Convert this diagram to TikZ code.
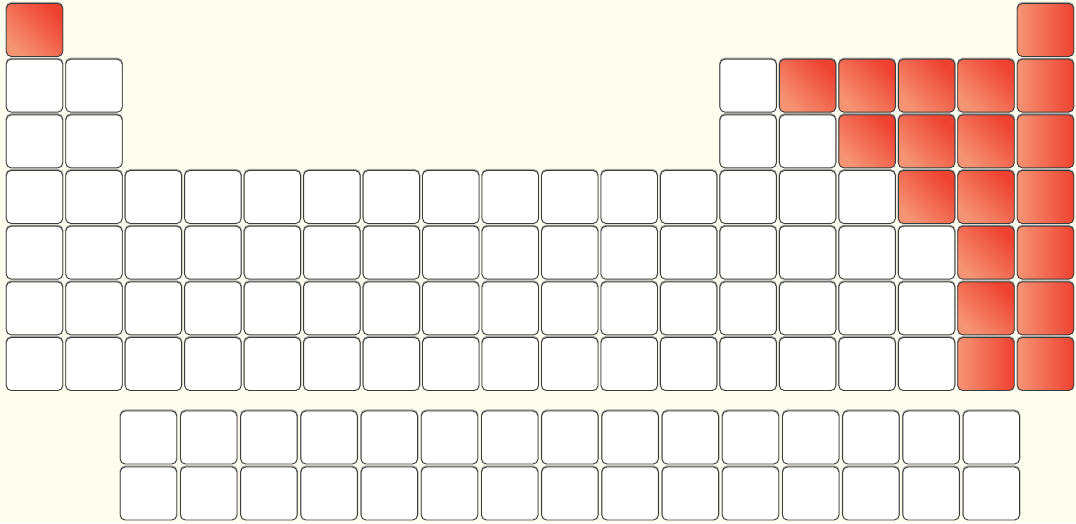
\documentclass[tikz,border=0pt]{standalone}
\usetikzlibrary{shadings}
\definecolor{bg}{HTML}{FFFDEE}
\definecolor{rdark}{HTML}{EE4231}
\definecolor{rlight}{HTML}{F59474}
\definecolor{edge}{HTML}{3C3C3C}
\tikzset{
  cell/.style={rectangle, rounded corners=5pt, minimum width=56.5pt, minimum height=53pt,
    inner sep=0pt, draw=edge, line width=0.9pt, fill=white,
    preaction={draw=gray!70, line width=1.4pt, transform canvas={yshift=0.9pt}}},
  plain/.style={},
  diag/.style={top color=rdark, bottom color=rlight, shading angle=-45},
  horiz/.style={left color=rlight, right color=rdark},
}
\begin{document}
\begin{tikzpicture}[x=1pt,y=-1pt]
\fill[bg] (0,0) rectangle (1076,523);
\useasboundingbox (0,0) rectangle (1076,523);
\foreach \r/\cl/\d/\h in {
  1/{1,18}/1/18,
  2/{1,2,13,14,15,16,17,18}/14/18,
  3/{1,2,13,14,15,16,17,18}/15/18,
  4/{1,...,18}/16/18,
  5/{1,...,18}/17/18,
  6/{1,...,18}/17/18,
  7/{1,...,18}/17/17}{
  \foreach \c in \cl {
    \ifnum\c<\d\relax \def\st{plain}\else\ifnum\c<\h\relax \def\st{diag}\else\def\st{horiz}\fi\fi
    \pgfmathsetmacro\xx{34.5+(\c-1)*59.47}
    \pgfmathsetmacro\yy{30+(\r-1)*55.67}
    \node[cell,\st] (p\r-\c) at (\xx,\yy) {};
  }
}
\foreach \r in {1,2}{
  \foreach \c in {1,...,15}{
    \pgfmathsetmacro\xx{148.5+(\c-1)*60.2}
    \pgfmathsetmacro\yy{437.5+(\r-1)*56}
    \node[cell] (f\r-\c) at (\xx,\yy) {};
  }
}
\end{tikzpicture}
\end{document}
